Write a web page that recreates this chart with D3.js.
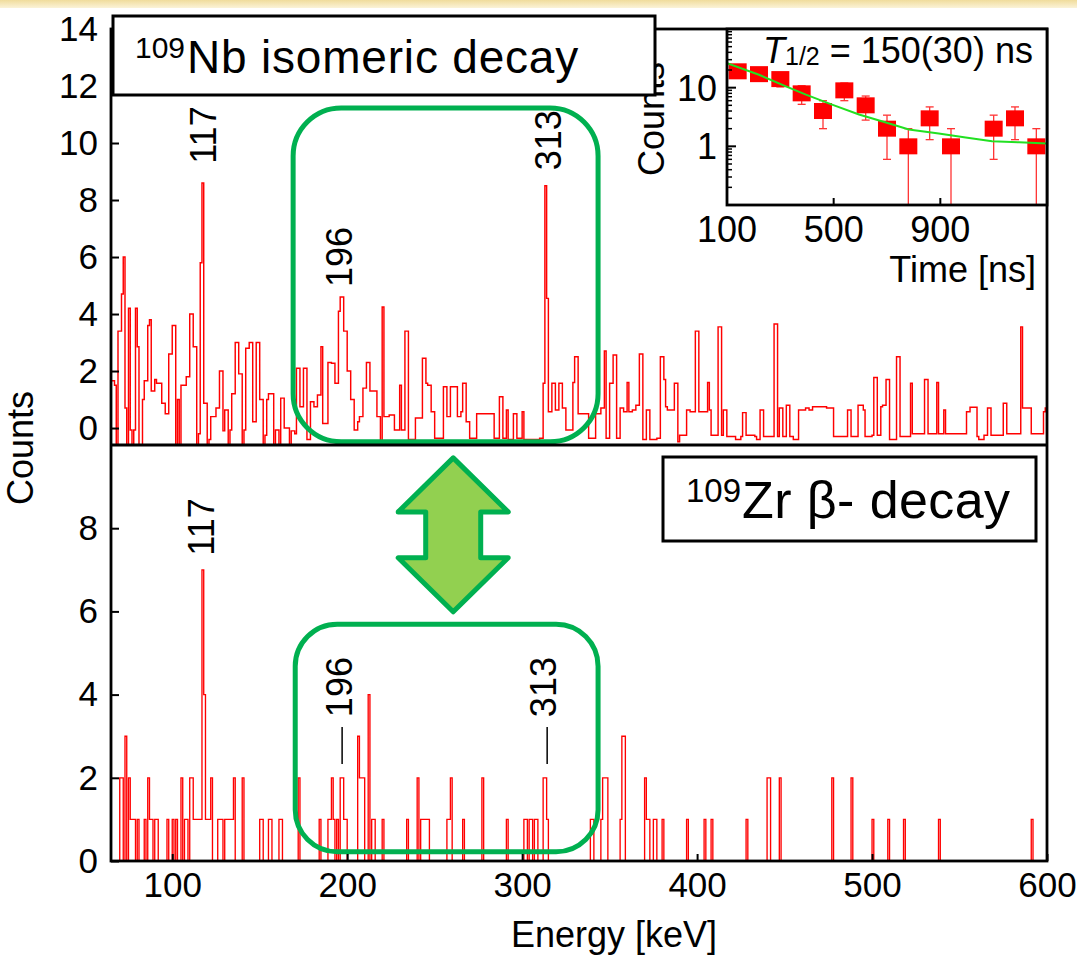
<!DOCTYPE html>
<html><head><meta charset="utf-8">
<script src="https://cdn.jsdelivr.net/npm/d3@7"></script>
<style>
body{margin:0;background:#fff;}
svg{display:block;font-family:"Liberation Sans",Arial,Helvetica,sans-serif;}
</style></head><body>
<svg id="c" width="1077" height="955"></svg>
<script>
// ---------------- data ----------------
const energyDomain = [65, 600];
const energyTicks = [100, 200, 300, 400, 500, 600];
const upperYTicks = [0, 2, 4, 6, 8, 10, 12, 14];
const lowerYTicks = [0, 2, 4, 6, 8];

// 109Nb isomeric decay spectrum, 1 keV bins starting at 65 keV
const upperStart = 65;
const upperCounts = [
1.66,1.66,1.5,-0.6,3.4,3.4,4.7,6.0,0.7,-0.6,
4.2,-0.07,-0.6,-0.07,4.2,2.85,-0.6,-0.6,1.0,1.66,
1.66,3.6,3.8,1.3,1.3,1.7,1.57,1.57,1.57,0.87,
0.87,0.5,0.5,2.6,2.6,3.6,3.6,-0.6,1.0,-0.6,
1.5,1.5,1.5,1.8,1.8,4.0,4.0,2.85,2.85,-0.6,
-0.2,5.8,8.6,0.87,0.87,-0.6,-0.4,0.4,0.4,0.4,
0.7,0.7,2.0,2.0,-0.1,0.63,0.63,-0.6,-0.07,1.2,
1.2,3.0,3.0,1.9,1.9,-0.6,-0.07,2.8,2.8,3.0,
3.0,0.22,0.22,3.0,3.0,1.0,1.0,-0.6,-0.25,1.0,
1.2,1.2,1.2,-0.6,-0.07,-0.07,-0.6,1.05,1.05,0.0,
0.0,0.0,-0.6,-0.1,-0.1,-0.2,2.1,2.1,0.75,0.75,
2.1,2.1,-0.4,-0.4,0.92,0.92,0.75,0.75,1.16,1.16,
2.85,0.16,0.16,0.16,2.3,2.3,2.27,2.27,1.57,1.57,
4.1,4.6,4.6,3.4,3.4,2.0,2.0,1.0,1.0,-0.07,
-0.07,0.22,0.4,0.4,1.4,1.4,2.3,2.3,1.3,1.3,
1.3,1.3,0.4,0.4,-0.6,4.25,0.4,0.4,0.4,0.46,
0.46,0.46,-0.07,-0.07,-0.07,1.5,-0.07,-0.07,3.4,3.4,
-0.4,-0.4,-0.4,-0.4,0.35,0.35,0.35,0.35,2.45,2.45,
1.57,1.5,1.5,0.57,0.57,-0.36,-0.36,-0.36,-0.36,-0.36,
1.45,1.45,0.4,0.4,1.45,1.45,1.45,1.45,0.4,0.4,
0.57,1.57,1.57,0.22,0.22,-0.36,-0.36,-0.36,-0.36,0.5,
0.5,0.5,0.5,0.5,0.5,0.5,0.5,0.5,0.5,-0.36,
-0.36,-0.36,1.1,1.1,-0.36,-0.36,0.63,-0.4,-0.4,-0.4,
0.5,0.5,-0.36,-0.36,-0.36,0.57,-0.4,-0.4,-0.4,-0.4,
-0.4,-0.4,-0.4,-0.4,-0.4,-0.36,-0.36,1.57,8.5,4.55,
0.57,0.57,1.57,1.57,0.63,0.63,1.57,1.57,0.7,0.7,
-0.07,-0.07,-0.07,-0.07,1.6,2.5,2.5,0.5,0.5,0.5,
0.5,0.5,0.5,-0.36,-0.36,-0.36,-0.36,0.5,0.5,0.5,
0.7,0.7,2.7,-0.36,-0.36,1.57,1.57,2.56,2.56,-0.36,
-0.36,0.7,0.7,0.57,0.57,1.6,0.57,0.57,0.63,0.63,
0.8,0.8,2.6,2.6,-0.4,-0.4,0.63,0.63,-0.4,-0.4,
-0.4,-0.4,-0.36,-0.36,2.5,2.5,1.7,0.75,0.63,0.63,
0.63,0.63,1.57,1.57,-0.48,-0.25,-0.25,-0.25,-0.25,0.63,
0.63,0.57,0.57,0.57,3.4,3.4,0.57,0.57,0.57,0.57,
0.57,1.6,0.63,-0.25,-0.25,-0.25,-0.25,3.55,3.55,-0.25,
0.63,0.63,-0.3,-0.3,-0.3,-0.3,-0.3,-0.4,-0.4,-0.4,
-0.3,0.54,0.54,-0.25,-0.25,-0.25,-0.25,-0.25,-0.3,-0.4,
-0.4,0.63,0.63,-0.3,-0.3,-0.3,-0.3,-0.3,-0.3,3.65,
3.65,-0.3,0.7,0.7,-0.3,-0.3,0.8,0.8,-0.3,-0.3,
-0.4,-0.4,-0.4,0.63,0.63,0.63,0.63,0.7,0.7,0.63,
0.63,0.75,0.75,0.75,0.75,0.75,0.75,0.75,0.75,0.7,
0.7,0.7,0.7,-0.3,-0.3,-0.3,-0.3,-0.3,-0.3,-0.3,
-0.3,0.63,0.63,-0.3,-0.3,-0.3,-0.3,0.8,0.8,0.8,
0.63,-0.3,-0.3,-0.3,-0.3,-0.25,1.77,1.77,-0.25,-0.25,
0.75,0.8,0.8,1.7,1.7,-0.4,-0.4,-0.4,-0.4,2.5,
2.5,-0.3,-0.3,-0.3,-0.3,-0.3,-0.3,1.57,-0.2,-0.2,
-0.2,-0.2,-0.2,-0.2,-0.2,1.7,1.7,-0.2,-0.2,-0.2,
-0.2,-0.2,1.6,-0.2,-0.2,-0.2,0.63,-0.2,-0.2,-0.2,
-0.2,-0.2,-0.2,-0.2,-0.2,-0.2,-0.2,-0.2,-0.2,0.57,
0.57,0.73,0.73,0.73,0.73,-0.3,-0.4,-0.4,-0.4,-0.25,
-0.25,0.7,0.7,-0.25,-0.25,-0.25,-0.25,-0.25,-0.25,-0.25,
0.87,0.87,-0.2,-0.2,-0.2,-0.2,-0.2,-0.2,-0.2,-0.2,
3.55,0.7,0.7,0.7,0.7,0.7,-0.2,-0.2,-0.2,-0.2,
-0.2,-0.2,-0.2,0.57,0.7
];

// 109Zr beta- decay spectrum: [energy keV (1 keV bin), counts]; all other bins 0
const lowerBins = [
[70,2],[71,2],[73,3],[75,2],[76,1],[77,1],[78,1],[80,1],[84,1],[86,2],[87,1],[88,1],[90,1],[91,1],
[97,1],[100,1],[102,1],[105,2],[107,1],[108,1],[110,2],[111,2],[112,1],[113,1],[114,1],[115,1],
[116,1],[117,7],[118,4],[119,1],[120,1],[121,1],[122,2],[126,1],[127,1],[128,1],[130,1],[131,1],
[132,1],[133,1],[134,1],[135,2],[140,2],[150,1],[151,1],[155,1],[156,1],[161,1],[162,1],[172,2],
[184,1],[189,1],[190,1],[191,2],[192,1],[194,1],[196,2],[197,2],[198,1],[199,1],[206,3],[207,2],
[208,2],[209,2],[212,4],[214,1],[215,1],[220,1],[234,1],[240,2],[242,1],[243,1],[244,1],[245,1],
[246,1],[257,1],[258,1],[259,2],[266,1],[277,2],[291,1],[301,1],[302,1],[304,1],[305,1],[307,1],
[308,1],[312,2],[313,2],[314,1],[339,1],[340,1],[345,1],[346,2],[347,2],[348,2],[356,1],[357,3],
[358,3],[370,2],[371,1],[372,1],[375,1],[376,1],[380,1],[394,1],[404,1],[408,1],[428,1],[440,2],
[441,2],[447,2],[477,2],[488,2],[500,1],[509,1],[518,1],[538,1],[591,1]
];

// inset: decay time spectrum
const decayTime   = [140,220,300,380,460,540,620,700,780,860,940,1100,1180,1260];
const decayCounts = [19,17,14,8,4,9,5,2,1,3,1,2,3,1];
const decayErr    = [4.4,4.1,3.7,2.8,2.0,3.0,2.2,1.4,1.0,1.7,1.0,1.4,1.7,1.0];
const fitTime   = [100,220,321,396,494,595,696,782,894,995,1094,1195,1300];
const fitCounts = [26.2,16.6,10.5,7.6,5.15,3.49,2.55,1.94,1.66,1.42,1.22,1.17,1.12];
const timeTicks = [100,500,900];
const insetYLabels = [1,10];

// peak labels [text, energy, height] in panel units
const upperPeakLabels = [["117",117.7,10.28],["196",195.5,6.0],["313",314.9,10.1]];
const lowerPeakLabels = [["117",116.6,8.03],["196",195.5,4.18],["313",312.0,4.18]];
const lowerPeakMarks  = [[197.1,2.33,3.22],[314.3,2.33,3.22]];

// ---------------- layout ----------------
const W = 1077, H = 955;
const L = 111, R = 1047, TOP = 29, MID = 445, BOT = 861;
const FONT = '"Liberation Sans",Arial,Helvetica,sans-serif';
const RED = "#ff0000", GREEN = "#00b050", LGREEN = "#92d050";

const svg = d3.select("#c");
const defs = svg.append("defs");

// slide background band at top
const bg = defs.append("linearGradient").attr("id","band").attr("x1",0).attr("y1",0).attr("x2",0).attr("y2",1);
bg.append("stop").attr("offset","0%").attr("stop-color","#f0dc9c");
bg.append("stop").attr("offset","100%").attr("stop-color","#fbf3d8");
svg.append("rect").attr("x",0).attr("y",0).attr("width",W).attr("height",8).attr("fill","url(#band)");

const x  = d3.scaleLinear().domain(energyDomain).range([L, R]);
const yU = d3.scaleLinear().domain([-0.56, 14]).range([MID - 1, TOP]);
const yL = d3.scaleLinear().domain([0, 10]).range([BOT, MID]);

defs.append("clipPath").attr("id","clipU").append("rect").attr("x",L).attr("y",TOP).attr("width",R-L).attr("height",MID-TOP);
defs.append("clipPath").attr("id","clipL").append("rect").attr("x",L).attr("y",MID).attr("width",R-L).attr("height",BOT-MID);

function histPoints(start, vals){
  const pts = vals.map((v,i)=>[start+i, v]);
  pts.push([start+vals.length, vals[vals.length-1]]);
  return pts;
}

// upper spectrum
const upPts = histPoints(upperStart, upperCounts);
svg.append("path")
  .attr("clip-path","url(#clipU)")
  .attr("d", d3.line().x(d=>x(d[0])).y(d=>yU(d[1])).curve(d3.curveStepAfter)(upPts))
  .attr("fill","none").attr("stroke",RED).attr("stroke-width",1.45);

// lower spectrum (dense bins from sparse list)
const lowVals = d3.range(energyDomain[0], energyDomain[1]).map(()=>0);
lowerBins.forEach(([e,c])=>{ lowVals[e-energyDomain[0]] = c; });
const lowPts = histPoints(energyDomain[0], lowVals);
svg.append("path")
  .attr("clip-path","url(#clipL)")
  .attr("d", d3.line().x(d=>x(d[0])).y(d=>yL(d[1])).curve(d3.curveStepAfter)(lowPts))
  .attr("fill","none").attr("stroke",RED).attr("stroke-width",1.35);

// green highlight boxes
function greenBox(e0,e1,yTop,yBot,r){
  svg.append("rect").attr("x",x(e0)).attr("y",yTop).attr("width",x(e1)-x(e0)).attr("height",yBot-yTop)
    .attr("rx",r).attr("ry",r).attr("fill","none").attr("stroke",GREEN).attr("stroke-width",5);
}
greenBox(169.1, 343.4, yU(11.23), yU(-0.48), 48);
greenBox(170.3, 343.4, yL(5.69), yL(0.22), 42);

// double arrow
{
  const cx = x(260.6), ty = yL(9.69), by = yL(5.99), hl = 54, hw = 55, sw = 27.5;
  const pts = [[cx,ty],[cx+hw,ty+hl],[cx+sw,ty+hl],[cx+sw,by-hl],[cx+hw,by-hl],[cx,by],
               [cx-hw,by-hl],[cx-sw,by-hl],[cx-sw,ty+hl],[cx-hw,ty+hl]];
  svg.append("path").attr("d","M"+pts.map(p=>p.join(",")).join("L")+"Z")
    .attr("fill",LGREEN).attr("stroke",GREEN).attr("stroke-width",5).attr("stroke-linejoin","round");
}

// peak labels
function vLabel(txt, px, py){
  svg.append("text").attr("transform",`translate(${px},${py}) rotate(-90)`)
    .attr("text-anchor","middle").attr("dy","0.36em")
    .attr("font-size",36).attr("font-family",FONT).attr("fill","#000").text(txt);
}
upperPeakLabels.forEach(([t,e,v])=>vLabel(t, x(e), yU(v)));
lowerPeakLabels.forEach(([t,e,v])=>vLabel(t, x(e), yL(v)));
lowerPeakMarks.forEach(([e,v0,v1])=>{
  svg.append("line").attr("x1",x(e)).attr("x2",x(e)).attr("y1",yL(v0)).attr("y2",yL(v1))
    .attr("stroke","#000").attr("stroke-width",1.5);
});

// axes
function styleAxis(g, fs){
  g.select(".domain").remove();
  g.selectAll("line").attr("stroke","#000").attr("stroke-width",2);
  g.selectAll("text").attr("font-size",fs).attr("font-family",FONT).attr("fill","#000");
}
const axU = svg.append("g").attr("transform",`translate(${L},0)`)
  .call(d3.axisLeft(yU).tickValues(upperYTicks).tickSize(-8).tickPadding(13).tickFormat(d3.format("d")));
styleAxis(axU, 35);
const axL = svg.append("g").attr("transform",`translate(${L},0)`)
  .call(d3.axisLeft(yL).tickValues(lowerYTicks).tickSize(-8).tickPadding(13).tickFormat(d3.format("d")));
styleAxis(axL, 35);
const axX = svg.append("g").attr("transform",`translate(0,${BOT})`)
  .call(d3.axisBottom(x).tickValues(energyTicks).tickSize(-7).tickPadding(11).tickFormat(d3.format("d")));
styleAxis(axX, 35);

// frame
svg.append("rect").attr("x",L).attr("y",TOP).attr("width",R-L).attr("height",BOT-TOP)
  .attr("fill","none").attr("stroke","#000").attr("stroke-width",2.8);
svg.append("line").attr("x1",L).attr("x2",R).attr("y1",MID).attr("y2",MID)
  .attr("stroke","#000").attr("stroke-width",2.8);

// axis titles
svg.append("text").attr("transform",`translate(20,${(TOP+BOT)/2+3}) rotate(-90)`)
  .attr("text-anchor","middle").attr("dy","0.36em").attr("font-size",36).attr("font-family",FONT).text("Counts");
svg.append("text").attr("x",614).attr("y",947).attr("text-anchor","middle")
  .attr("font-size",36).attr("font-family",FONT).text("Energy [keV]");

// ---------------- inset ----------------
const IL = 727, IR = 1047, IT = 29, IB = 205;
const ix = d3.scaleLinear().domain([100,1300]).range([IL, IR]);
const iy = d3.scaleLog().domain([0.1,100]).range([IB, IT]);
defs.append("clipPath").attr("id","clipI").append("rect").attr("x",IL).attr("y",IT).attr("width",IR-IL).attr("height",IB-IT);

svg.append("rect").attr("x",IL).attr("y",IT).attr("width",IR-IL).attr("height",IB-IT).attr("fill","#fff");

const ins = svg.append("g").attr("clip-path","url(#clipI)");
// error bars
decayTime.forEach((t,i)=>{
  const c = decayCounts[i], e = decayErr[i];
  const lo = Math.max(c-e, 0.05), hi = c+e;
  const px = ix(t);
  ins.append("line").attr("x1",px).attr("x2",px).attr("y1",iy(lo)).attr("y2",iy(hi))
    .attr("stroke","#ff3333").attr("stroke-width",1.3);
  [lo,hi].forEach(v=>{ if (v > 0.1) ins.append("line").attr("x1",px-4).attr("x2",px+4)
    .attr("y1",iy(v)).attr("y2",iy(v)).attr("stroke","#ff3333").attr("stroke-width",1.3); });
});
// data squares
ins.selectAll("rect.pt").data(decayTime).enter().append("rect").attr("class","pt")
  .attr("x",d=>ix(d)-9).attr("y",(d,i)=>iy(decayCounts[i])-8).attr("width",18).attr("height",16)
  .attr("fill",RED);
// fit curve on top
ins.append("path").attr("d", d3.line().x((d,i)=>ix(fitTime[i])).y((d,i)=>iy(fitCounts[i]))(fitTime))
  .attr("fill","none").attr("stroke","#22e022").attr("stroke-width",2);

// inset axes
const minorTicks = [];
[0.1,1,10].forEach(dec=>{ for(let k=2;k<=9;k++) minorTicks.push(dec*k); });
minorTicks.forEach(v=>{
  svg.append("line").attr("x1",IL).attr("x2",IL+5).attr("y1",iy(v)).attr("y2",iy(v)).attr("stroke","#000").attr("stroke-width",1.5);
});
[1,10].forEach(v=>{
  svg.append("line").attr("x1",IL).attr("x2",IL+9).attr("y1",iy(v)).attr("y2",iy(v)).attr("stroke","#000").attr("stroke-width",2);
});
svg.selectAll("text.iyl").data(insetYLabels).enter().append("text").attr("class","iyl")
  .attr("x",IL-10).attr("y",d=>iy(d)).attr("dy","0.36em").attr("text-anchor","end")
  .attr("font-size",36).attr("font-family",FONT).text(d=>d);
timeTicks.forEach(t=>{
  svg.append("line").attr("x1",ix(t)).attr("x2",ix(t)).attr("y1",IB).attr("y2",IB-7).attr("stroke","#000").attr("stroke-width",2);
});
svg.selectAll("text.ixl").data(timeTicks).enter().append("text").attr("class","ixl")
  .attr("x",d=>ix(d)).attr("y",IB+37).attr("text-anchor","middle")
  .attr("font-size",36).attr("font-family",FONT).text(d=>d);
svg.append("rect").attr("x",IL).attr("y",IT).attr("width",IR-IL).attr("height",IB-IT)
  .attr("fill","none").attr("stroke","#000").attr("stroke-width",2.8);
svg.append("text").attr("x",1036).attr("y",282).attr("text-anchor","end")
  .attr("font-size",36).attr("font-family",FONT).text("Time [ns]");
svg.append("text").attr("transform",`translate(651,${(IT+IB)/2+2}) rotate(-90)`)
  .attr("text-anchor","middle").attr("dy","0.36em").attr("font-size",36).attr("font-family",FONT).text("Counts");
{
  const t = svg.append("text").attr("x",763).attr("y",63).attr("font-size",36).attr("font-family",FONT);
  t.append("tspan").attr("font-style","italic").text("T");
  t.append("tspan").attr("font-size",25).attr("dy",2).text("1/2");
  t.append("tspan").attr("dy",-2).text(" = 150(30) ns");
}

// ---------------- label boxes ----------------
svg.append("rect").attr("x",113).attr("y",16).attr("width",542).attr("height",79)
  .attr("fill","#fff").attr("stroke","#000").attr("stroke-width",3);
{
  const t = svg.append("text").attr("x",135).attr("y",73).attr("font-family",FONT);
  t.append("tspan").attr("font-size",30).attr("dy",-15).text("109");
  t.append("tspan").attr("font-size",46).attr("dy",15).attr("dx",2).attr("letter-spacing",0.8).text("Nb isomeric decay");
}
svg.append("rect").attr("x",663).attr("y",457).attr("width",373).attr("height",84)
  .attr("fill","#fff").attr("stroke","#000").attr("stroke-width",3);
{
  const t = svg.append("text").attr("x",686).attr("y",518).attr("font-family",FONT);
  t.append("tspan").attr("font-size",33).attr("dy",-16).text("109");
  t.append("tspan").attr("font-size",52).attr("dy",16).attr("dx",1).attr("letter-spacing",0.4).text("Zr β- decay");
}
</script>
</body></html>
